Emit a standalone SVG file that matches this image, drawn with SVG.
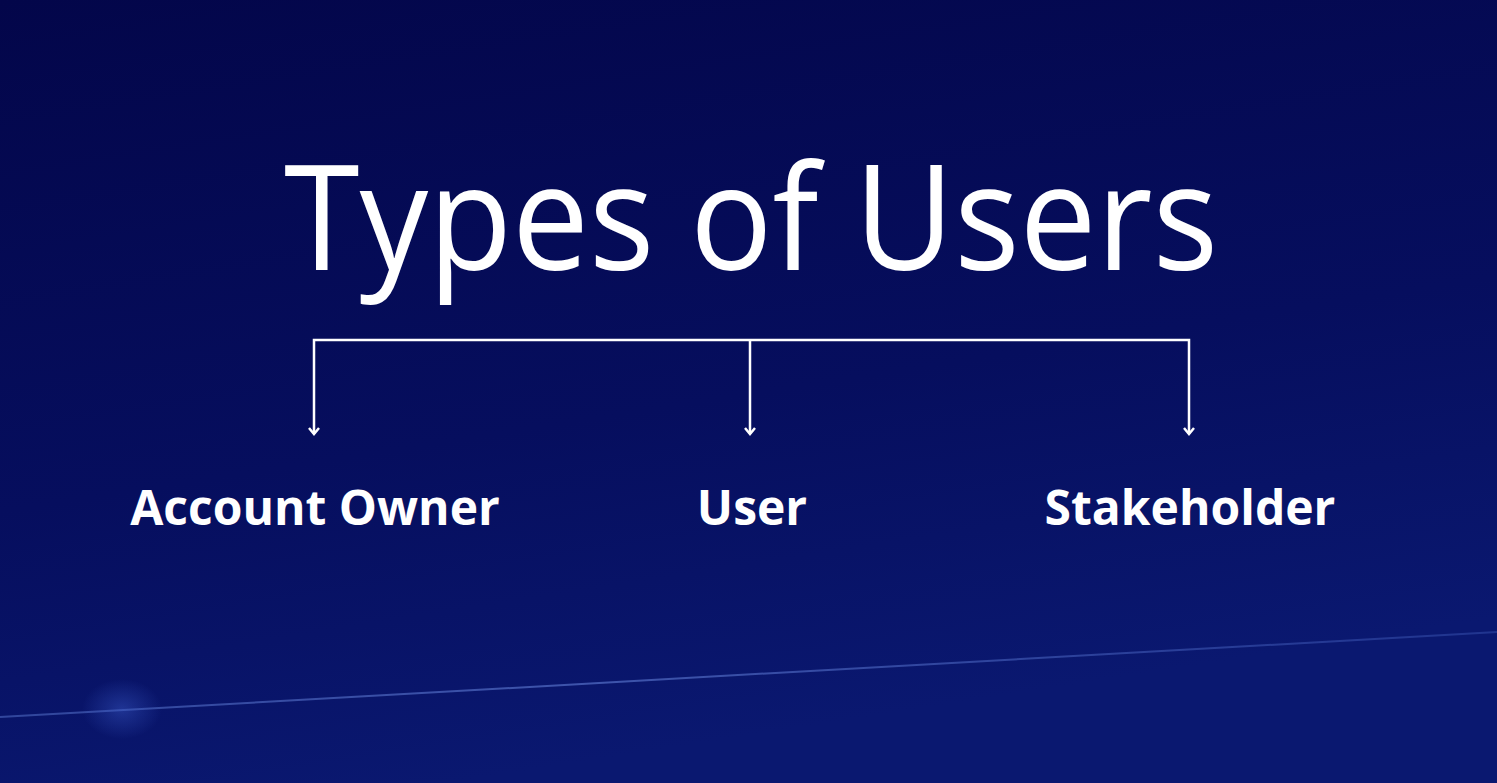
<svg xmlns="http://www.w3.org/2000/svg" width="1497" height="783" viewBox="0 0 1497 783">
<defs>
<linearGradient id="bg" x1="0" y1="0" x2="0.3" y2="1">
<stop offset="0" stop-color="#03064a"/>
<stop offset="0.6" stop-color="#060e5e"/>
<stop offset="1" stop-color="#0a1870"/>
</linearGradient>
<linearGradient id="streak" x1="0" y1="0" x2="1" y2="0">
<stop offset="0" stop-color="#5a78d0" stop-opacity="0.5"/>
<stop offset="0.4" stop-color="#6a88e0" stop-opacity="0.55"/>
<stop offset="1" stop-color="#4a68c8" stop-opacity="0.35"/>
</linearGradient>
<radialGradient id="glow" cx="0.5" cy="0.5" r="0.5">
<stop offset="0" stop-color="#3a5ac8" stop-opacity="0.45"/>
<stop offset="1" stop-color="#3a5ac8" stop-opacity="0"/>
</radialGradient>
<marker id="arr" viewBox="0 0 10 12" refX="8" refY="6" markerWidth="10" markerHeight="12" markerUnits="userSpaceOnUse" orient="auto-start-reverse">
<path d="M2,1 L8,6 L2,11" fill="none" stroke="#ffffff" stroke-width="2.5" stroke-linejoin="miter"/>
</marker>
<style>
.title{font-family:"Open Sans","Liberation Sans",sans-serif;font-size:146px;fill:#ffffff;}
.lbl{font-family:"Open Sans","Liberation Sans",sans-serif;font-size:48px;font-weight:bold;fill:#ffffff;}
.conn{fill:none;stroke:#ffffff;stroke-width:2.5;}
</style>
</defs>
<rect width="1497" height="783" fill="url(#bg)"/>
<path d="M0,717 L1497,632" stroke="url(#streak)" stroke-width="2" fill="none"/>
<ellipse cx="122" cy="709" rx="40" ry="30" fill="url(#glow)"/>
<g id="title"><text class="title" x="284" y="270" textLength="934" lengthAdjust="spacingAndGlyphs">Types of Users</text></g>
<g id="connectors">
<polyline class="conn" points="314,434 314,340 1189,340 1189,434" marker-start="url(#arr)" marker-end="url(#arr)"/>
<line class="conn" x1="750" y1="340" x2="750" y2="434" marker-end="url(#arr)"/>
</g>
<g id="account-owner"><text class="lbl" x="315" y="525" text-anchor="middle">Account Owner</text></g>
<g id="user"><text class="lbl" x="752" y="525" text-anchor="middle">User</text></g>
<g id="stakeholder"><text class="lbl" x="1190" y="525" text-anchor="middle">Stakeholder</text></g>
</svg>
